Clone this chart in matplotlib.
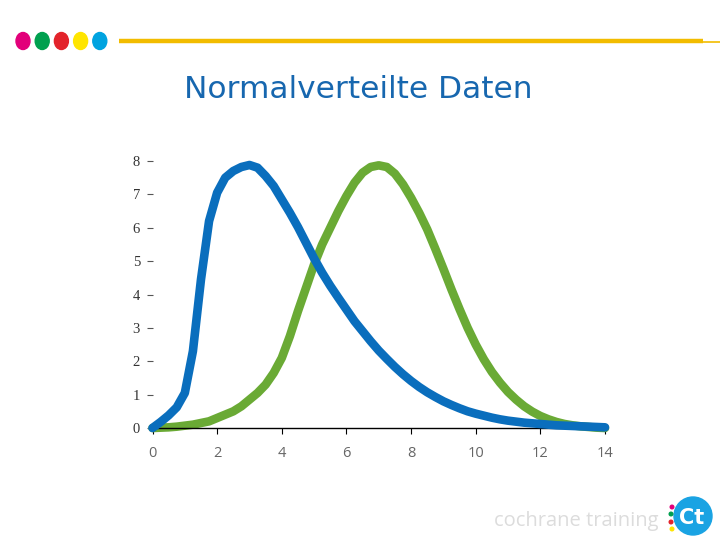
import matplotlib

matplotlib.use("Agg")
import matplotlib.pyplot as plt
from matplotlib.patches import Ellipse, Circle

# Values, x step 0.25
x_vals = [i * 0.25 for i in range(57)]
blue = [0, 0.18, 0.38, 0.62, 1.05, 2.3, 4.45, 6.2, 7.05, 7.5, 7.7, 7.82,
        7.88, 7.8, 7.55, 7.25, 6.85, 6.45, 6.02, 5.55, 5.08, 4.65, 4.26,
        3.9, 3.55, 3.2, 2.9, 2.6, 2.32, 2.07, 1.83, 1.61, 1.41, 1.23, 1.07,
        0.93, 0.8, 0.69, 0.59, 0.5, 0.43, 0.37, 0.31, 0.26, 0.22, 0.19,
        0.16, 0.14, 0.12, 0.1, 0.08, 0.07, 0.06, 0.05, 0.04, 0.03, 0.02]
green = [0, 0.01, 0.02, 0.04, 0.07, 0.1, 0.15, 0.2, 0.3, 0.4, 0.5, 0.65,
         0.85, 1.05, 1.3, 1.65, 2.1, 2.75, 3.5, 4.2, 4.9, 5.5, 6.0, 6.5,
         6.95, 7.35, 7.65, 7.82, 7.87, 7.82, 7.62, 7.3, 6.9, 6.45, 5.95,
         5.37, 4.77, 4.15, 3.56, 3.0, 2.5, 2.06, 1.68, 1.36, 1.08, 0.85,
         0.65, 0.49, 0.36, 0.26, 0.18, 0.12, 0.08, 0.05, 0.03, 0.01, 0]
x_ticks = [0, 2, 4, 6, 8, 10, 12, 14]
y_ticks = [0, 1, 2, 3, 4, 5, 6, 7, 8]
title = "Normalverteilte Daten"
footer = "cochrane training"
dot_colors = ["#E2007A", "#00A04F", "#E3232B", "#FFE500", "#00A3E0"]

C_BLUE = "#0A6EBD"
C_GREEN = "#6AAA35"

fig = plt.figure(figsize=(7.2, 5.4), dpi=100)
W, H = 720, 540

# header decoration
deco = fig.add_axes([0, 0, 1, 1])
deco.set_xlim(0, W)
deco.set_ylim(H, 0)
deco.axis("off")
for i, c in enumerate(dot_colors):
    deco.add_patch(Ellipse((23 + i * 19.2, 41), 14, 17, color=c))
deco.plot([119, 703], [41, 41], color="#F2BC00", lw=3.2, solid_capstyle="butt")
deco.plot([703, 720], [42, 42], color="#F2BC00", lw=1.2)
deco.text(358, 90, title, color="#1767AF", fontsize=22.5, ha="center",
          va="center", family="DejaVu Sans")

# footer
deco.text(576, 521, footer, color="#DCDCDC", fontsize=14.5, ha="center",
          va="center", family="Open Sans")
deco.add_patch(Circle((693, 516), 19, color="#1AA3E3"))
deco.text(692, 518, "Ct", color="white", fontsize=15, ha="center",
          va="center", family="DejaVu Sans", weight="bold")
for (dx, dy, c) in [(672, 507, "#E2007A"), (671, 514, "#00A04F"),
                    (671, 522, "#E3232B"), (672, 529, "#FFE500")]:
    deco.add_patch(Circle((dx, dy), 1.8, color=c))

# chart
ax = fig.add_axes([152.5 / W, 1 - 428 / H, 452.5 / W, 267 / H])
ax.plot(x_vals, blue, color=C_BLUE, lw=6.2, solid_capstyle="round",
        solid_joinstyle="round", clip_on=False, zorder=3)
ax.plot(x_vals, green, color=C_GREEN, lw=6.2, solid_capstyle="round",
        solid_joinstyle="round", clip_on=False, zorder=2)
ax.set_xlim(0, 14)
ax.set_ylim(0, 8)
for s in ("top", "right", "left"):
    ax.spines[s].set_visible(False)
ax.spines["bottom"].set_color("black")
ax.spines["bottom"].set_linewidth(1.0)
ax.set_xticks(x_ticks)
ax.set_yticks(y_ticks)
ax.tick_params(axis="x", direction="out", length=4, color="black",
               labelcolor="#666666", labelsize=10.5, pad=9)
ax.tick_params(axis="y", direction="out", length=4, color="#555555",
               labelcolor="#333333", labelsize=10.5, pad=5)
for lab in ax.get_xticklabels():
    lab.set_family("Open Sans")
for lab in ax.get_yticklabels():
    lab.set_family("Liberation Serif")

fig.savefig("out.png", dpi=100)
